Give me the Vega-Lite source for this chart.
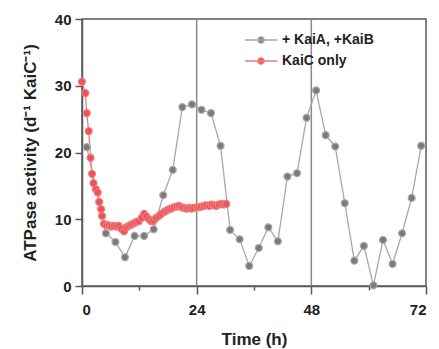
{
  "$schema": "https://vega.github.io/schema/vega-lite/v6.json",
  "width": 344,
  "height": 267,
  "padding": {"left": 21, "top": 12, "right": 0, "bottom": 4},
  "background": "white",
  "config": {
    "font": "Liberation Sans",
    "view": {"stroke": "#5a5a5a", "strokeWidth": 1.5},
    "axis": {
      "grid": false,
      "domainColor": "#5a5a5a",
      "domainWidth": 1.5,
      "tickColor": "#5a5a5a",
      "tickWidth": 1.5,
      "labelFont": "Liberation Sans",
      "labelFontWeight": "bold",
      "labelFontSize": 15,
      "labelColor": "#222",
      "titleFont": "Liberation Sans",
      "titleFontWeight": "bold",
      "titleFontSize": 17,
      "titleColor": "#222"
    },
    "legend": {
      "labelFontSize": 14,
      "labelFontWeight": "bold",
      "labelColor": "#222",
      "labelFont": "Liberation Sans",
      "rowPadding": 2,
      "labelOffset": 9,
      "symbolStrokeWidth": 1.3,
      "symbolSize": 500,
      "symbolType": "M -1.45 0 L 1.45 0 M -0.28 0 A 0.28 0.28 0 1 1 0.28 0 A 0.28 0.28 0 1 1 -0.28 0"
    }
  },
  "datasets": {
    "series": [
      {"t": 1, "v": 20.8, "s": "+ KaiA, +KaiB"},
      {"t": 5, "v": 7.9, "s": "+ KaiA, +KaiB"},
      {"t": 7, "v": 6.6, "s": "+ KaiA, +KaiB"},
      {"t": 9, "v": 4.3, "s": "+ KaiA, +KaiB"},
      {"t": 11, "v": 7.5, "s": "+ KaiA, +KaiB"},
      {"t": 13, "v": 7.5, "s": "+ KaiA, +KaiB"},
      {"t": 15, "v": 8.5, "s": "+ KaiA, +KaiB"},
      {"t": 17, "v": 13.6, "s": "+ KaiA, +KaiB"},
      {"t": 19, "v": 17.4, "s": "+ KaiA, +KaiB"},
      {"t": 21, "v": 26.8, "s": "+ KaiA, +KaiB"},
      {"t": 23, "v": 27.2, "s": "+ KaiA, +KaiB"},
      {"t": 25, "v": 26.4, "s": "+ KaiA, +KaiB"},
      {"t": 27, "v": 25.9, "s": "+ KaiA, +KaiB"},
      {"t": 29, "v": 21.0, "s": "+ KaiA, +KaiB"},
      {"t": 31, "v": 8.4, "s": "+ KaiA, +KaiB"},
      {"t": 33, "v": 7.0, "s": "+ KaiA, +KaiB"},
      {"t": 35, "v": 3.0, "s": "+ KaiA, +KaiB"},
      {"t": 37, "v": 5.7, "s": "+ KaiA, +KaiB"},
      {"t": 39, "v": 8.8, "s": "+ KaiA, +KaiB"},
      {"t": 41, "v": 6.7, "s": "+ KaiA, +KaiB"},
      {"t": 43, "v": 16.4, "s": "+ KaiA, +KaiB"},
      {"t": 45, "v": 16.9, "s": "+ KaiA, +KaiB"},
      {"t": 47, "v": 25.2, "s": "+ KaiA, +KaiB"},
      {"t": 49, "v": 29.3, "s": "+ KaiA, +KaiB"},
      {"t": 51, "v": 22.6, "s": "+ KaiA, +KaiB"},
      {"t": 53, "v": 20.9, "s": "+ KaiA, +KaiB"},
      {"t": 55, "v": 12.4, "s": "+ KaiA, +KaiB"},
      {"t": 57, "v": 3.8, "s": "+ KaiA, +KaiB"},
      {"t": 59, "v": 6.0, "s": "+ KaiA, +KaiB"},
      {"t": 61, "v": 0.1, "s": "+ KaiA, +KaiB"},
      {"t": 63, "v": 6.9, "s": "+ KaiA, +KaiB"},
      {"t": 65, "v": 3.3, "s": "+ KaiA, +KaiB"},
      {"t": 67, "v": 7.9, "s": "+ KaiA, +KaiB"},
      {"t": 69, "v": 13.2, "s": "+ KaiA, +KaiB"},
      {"t": 71, "v": 21.0, "s": "+ KaiA, +KaiB"},
      {"t": 0.0, "v": 30.6, "s": "KaiC only"},
      {"t": 0.7, "v": 28.9, "s": "KaiC only"},
      {"t": 1.0, "v": 25.9, "s": "KaiC only"},
      {"t": 1.4, "v": 23.2, "s": "KaiC only"},
      {"t": 1.8, "v": 19.2, "s": "KaiC only"},
      {"t": 2.1, "v": 16.8, "s": "KaiC only"},
      {"t": 2.4, "v": 15.4, "s": "KaiC only"},
      {"t": 2.9, "v": 14.5, "s": "KaiC only"},
      {"t": 3.3, "v": 14.0, "s": "KaiC only"},
      {"t": 3.6, "v": 12.6, "s": "KaiC only"},
      {"t": 4.0, "v": 11.5, "s": "KaiC only"},
      {"t": 4.2, "v": 10.5, "s": "KaiC only"},
      {"t": 4.6, "v": 9.3, "s": "KaiC only"},
      {"t": 5.1, "v": 9.1, "s": "KaiC only"},
      {"t": 5.6, "v": 9.1, "s": "KaiC only"},
      {"t": 6.1, "v": 8.9, "s": "KaiC only"},
      {"t": 6.7, "v": 9.0, "s": "KaiC only"},
      {"t": 7.2, "v": 8.9, "s": "KaiC only"},
      {"t": 7.7, "v": 9.0, "s": "KaiC only"},
      {"t": 8.2, "v": 8.6, "s": "KaiC only"},
      {"t": 8.8, "v": 8.2, "s": "KaiC only"},
      {"t": 9.3, "v": 8.8, "s": "KaiC only"},
      {"t": 9.8, "v": 9.0, "s": "KaiC only"},
      {"t": 10.3, "v": 9.2, "s": "KaiC only"},
      {"t": 10.9, "v": 9.4, "s": "KaiC only"},
      {"t": 11.4, "v": 9.6, "s": "KaiC only"},
      {"t": 11.9, "v": 9.7, "s": "KaiC only"},
      {"t": 12.5, "v": 10.2, "s": "KaiC only"},
      {"t": 13.0, "v": 10.8, "s": "KaiC only"},
      {"t": 13.5, "v": 10.4, "s": "KaiC only"},
      {"t": 14.0, "v": 10.0, "s": "KaiC only"},
      {"t": 14.5, "v": 9.7, "s": "KaiC only"},
      {"t": 15.0, "v": 9.8, "s": "KaiC only"},
      {"t": 15.5, "v": 10.2, "s": "KaiC only"},
      {"t": 16.1, "v": 10.5, "s": "KaiC only"},
      {"t": 16.6, "v": 10.8, "s": "KaiC only"},
      {"t": 17.2, "v": 11.1, "s": "KaiC only"},
      {"t": 17.7, "v": 11.3, "s": "KaiC only"},
      {"t": 18.2, "v": 11.5, "s": "KaiC only"},
      {"t": 18.7, "v": 11.6, "s": "KaiC only"},
      {"t": 19.2, "v": 11.8, "s": "KaiC only"},
      {"t": 19.8, "v": 11.9, "s": "KaiC only"},
      {"t": 20.3, "v": 12.0, "s": "KaiC only"},
      {"t": 20.8, "v": 11.8, "s": "KaiC only"},
      {"t": 21.3, "v": 11.7, "s": "KaiC only"},
      {"t": 21.9, "v": 11.6, "s": "KaiC only"},
      {"t": 22.4, "v": 11.7, "s": "KaiC only"},
      {"t": 22.9, "v": 11.6, "s": "KaiC only"},
      {"t": 23.4, "v": 11.7, "s": "KaiC only"},
      {"t": 24.0, "v": 11.8, "s": "KaiC only"},
      {"t": 24.5, "v": 11.8, "s": "KaiC only"},
      {"t": 25.0, "v": 11.9, "s": "KaiC only"},
      {"t": 25.5, "v": 12.0, "s": "KaiC only"},
      {"t": 26.0, "v": 12.1, "s": "KaiC only"},
      {"t": 26.6, "v": 12.0, "s": "KaiC only"},
      {"t": 27.1, "v": 12.2, "s": "KaiC only"},
      {"t": 27.6, "v": 12.1, "s": "KaiC only"},
      {"t": 28.1, "v": 12.0, "s": "KaiC only"},
      {"t": 28.6, "v": 12.2, "s": "KaiC only"},
      {"t": 29.2, "v": 12.3, "s": "KaiC only"},
      {"t": 29.7, "v": 12.2, "s": "KaiC only"},
      {"t": 30.2, "v": 12.3, "s": "KaiC only"}
    ],
    "vlines": [{"t": 24}, {"t": 48}]
  },
  "layer": [
    {
      "data": {"name": "vlines"},
      "mark": {"type": "rule", "color": "#8a8a8a", "strokeWidth": 1.5},
      "encoding": {
        "x": {"field": "t", "type": "quantitative", "scale": {"domain": [0, 72], "nice": false}}
      }
    },
    {
      "data": {"name": "series"},
      "mark": {"type": "line", "strokeWidth": 1.3},
      "encoding": {
        "x": {"field": "t", "type": "quantitative", "scale": {"domain": [0, 72], "nice": false}},
        "y": {"field": "v", "type": "quantitative"},
        "detail": {"field": "s"},
        "stroke": {
          "field": "s",
          "type": "nominal",
          "scale": {"domain": ["+ KaiA, +KaiB", "KaiC only"], "range": ["#a8a8a8", "#f07c7c"]},
          "legend": {"title": null, "orient": "none", "legendX": 167, "legendY": 9}
        }
      }
    },
    {
      "data": {"name": "series"},
      "mark": {"type": "point", "filled": true, "size": 48, "strokeWidth": 1.2, "opacity": 1},
      "encoding": {
        "x": {
          "field": "t",
          "type": "quantitative",
          "scale": {"domain": [0, 72], "nice": false},
          "axis": {
            "values": [0, 6, 12, 18, 24, 30, 36, 42, 48, 54, 60, 66, 72],
            "labelExpr": "datum.value % 24 === 0 ? datum.label : ''",
            "tickSize": {"condition": {"test": "datum.value % 24 === 0", "value": 8}, "value": 4},
            "labelPadding": 8,
            "title": "Time (h)",
            "titlePadding": 14
          }
        },
        "y": {
          "field": "v",
          "type": "quantitative",
          "scale": {"domain": [0, 40], "nice": false},
          "axis": {
            "values": [0, 10, 20, 30, 40],
            "tickSize": 7,
            "labelPadding": 4,
            "title": "ATPase activity (d⁻¹  KaiC⁻¹)",
            "titlePadding": 15
          }
        },
        "fill": {
          "field": "s",
          "type": "nominal",
          "scale": {"domain": ["+ KaiA, +KaiB", "KaiC only"], "range": ["#7a7a7a", "#ec5256"]},
          "legend": {"title": null, "orient": "none", "legendX": 167, "legendY": 9}
        },
        "stroke": {
          "field": "s",
          "type": "nominal",
          "scale": {"domain": ["+ KaiA, +KaiB", "KaiC only"], "range": ["#a8a8a8", "#f07c7c"]},
          "legend": {"title": null, "orient": "none", "legendX": 167, "legendY": 9}
        }
      }
    }
  ]
}
